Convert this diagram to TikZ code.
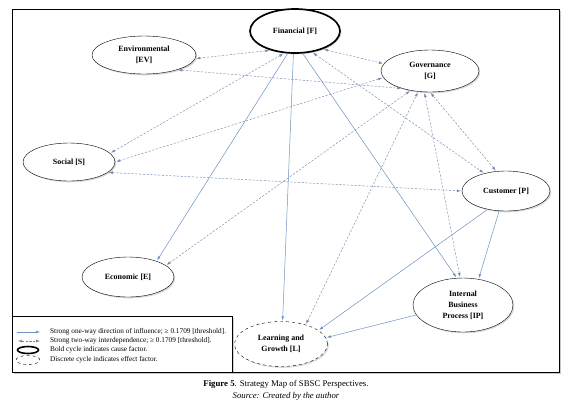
\documentclass[tikz,border=0pt]{standalone}
\usepackage{fontspec}
\setmainfont{Liberation Serif}
\usetikzlibrary{shapes.geometric,shadows,arrows.meta}
\definecolor{linkblue}{RGB}{108,146,196}
\definecolor{dashblue}{RGB}{116,138,176}

\tikzset{
	persp/.style={ellipse,draw,thin,fill=white,align=center,inner sep=0pt,
		font=\fontsize{8}{11}\selectfont\bfseries,
		drop shadow={shadow xshift=1.3pt,shadow yshift=-1.3pt,fill=black!30}},
	cause/.style={persp,line width=1.7pt},
	effect/.style={persp,dashed},
	oneway/.style={->,draw=linkblue,line width=0.5pt,shorten >=1pt},
	twoway/.style={<->,draw=dashblue,line width=0.45pt,dash pattern=on 2.2pt off 1.6pt,
		shorten >=1pt,shorten <=1pt},
	legtext/.style={anchor=west,inner sep=0pt,font=\fontsize{7.3}{8}\selectfont}
}

\begin{document}
\begin{tikzpicture}[>={Latex[length=4pt,width=2.8pt]},x=1bp,y=-1bp]
\useasboundingbox (0,0) rectangle (568,402);
\fill[white] (0,0) rectangle (568,402);

% frame
\fill[black!22] (14,11) rectangle (561,374);
\draw[line width=0.8pt,fill=white] (12,9) rectangle (559,372);

% perspectives
\node[cause,minimum width=90bp,minimum height=44bp] (fin) at (295,31) {Financial [F]};
\node[persp,minimum width=104bp,minimum height=38bp] (env) at (144,55) {Environmental\\{[EV]}};
\node[persp,minimum width=98bp,minimum height=42bp] (gov) at (430,71) {Governance\\{[G]}};
\node[persp,minimum width=92bp,minimum height=38bp] (soc) at (69,162) {Social [S]};
\node[persp,minimum width=88bp,minimum height=40bp] (cus) at (506,191) {Customer [P]};
\node[persp,minimum width=92bp,minimum height=40bp] (eco) at (128,277) {Economic [E]};
\node[persp,minimum width=100bp,minimum height=54bp] (ibp) at (463,305) {Internal\\Business\\Process [IP]};
\node[effect,minimum width=93bp,minimum height=45bp] (lrn) at (281,344) {Learning and\\Growth [L]};

% one-way influence
\foreach \a/\b in {fin.252/eco.29, fin.266/lrn.86, fin.289/ibp.103,
	cus.251/ibp.59, cus.225/lrn.20, ibp.192/lrn.8}{
	\draw[oneway] (\a) -- (\b);
}

% two-way interdependence
\foreach \a/\b in {fin.218/env.356, fin.244/soc.12, fin.327/gov.171, fin.309/cus.141,
	env.336/gov.212, soc.0/gov.188, soc.345/cus.180, eco.17/gov.225,
	lrn.38/gov.240, ibp.96/gov.255, cus.116/gov.270}{
	\draw[twoway] (\a) -- (\b);
}

% legend
\fill[black!18] (13.5,317.5) rectangle (233.5,372);
\draw[thin,fill=white] (12,316) rectangle (232,372);
\coordinate (k1a) at (17,332);
\coordinate (k1b) at (41,332);
\coordinate (k2a) at (17,341);
\coordinate (k2b) at (41,341);
\draw[oneway] (k1a) -- (k1b);
\draw[twoway] (k2a) -- (k2b);
\node[ellipse,draw,line width=1.6pt,minimum width=21bp,minimum height=7bp,inner sep=0pt] (k3) at (28,350) {};
\node[ellipse,draw,dashed,thin,minimum width=24bp,minimum height=9bp,inner sep=0pt] (k4) at (28,360) {};
\node[legtext] (t1) at (50,332) {Strong one-way direction of influence; ≥ 0.1709 [threshold].};
\node[legtext] (t2) at (50,341) {Strong two-way interdependence; ≥ 0.1709 [threshold].};
\node[legtext] (t3) at (50,350) {Bold cycle indicates cause factor.};
\node[legtext] (t4) at (50,360) {Discrete cycle indicates effect factor.};

% caption
\node[font=\fontsize{8.8}{10}\selectfont] (cap) at (286,384) {\textbf{Figure 5}. Strategy Map of SBSC Perspectives.};
\node[font=\fontsize{8.8}{10}\selectfont\itshape] (src) at (286,396) {Source: Created by the author};

\end{tikzpicture}
\end{document}
